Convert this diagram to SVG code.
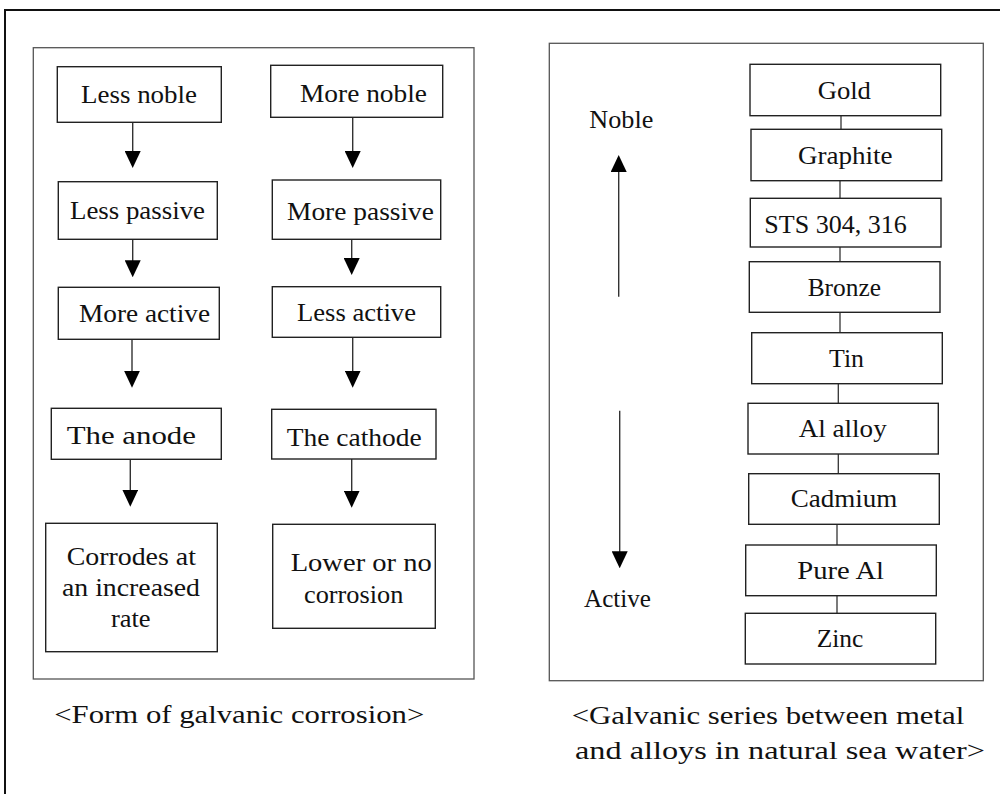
<svg xmlns="http://www.w3.org/2000/svg" width="1000" height="794" viewBox="0 0 1000 794">
  <style>
    .frame { fill: none; stroke: #111; stroke-width: 2; }
    .panel { fill: none; stroke: #555; stroke-width: 1.3; }
    .box { fill: #fff; stroke: #222; stroke-width: 1.4; }
    .t { font-family: "Liberation Serif", "Times New Roman", serif; font-size: 26px; fill: #111; text-anchor: middle; }
    .cap { font-size: 25px; }
    .arrow { fill: none; stroke: #333; stroke-width: 1.4; marker-end: url(#head); }
    .link { fill: none; stroke: #333; stroke-width: 1.3; }
  </style>
  <defs>
    <marker id="head" markerUnits="userSpaceOnUse" viewBox="0 0 17 16" markerWidth="17" markerHeight="16" refX="14" refY="8" orient="auto">
      <path d="M0,0 L17,8 L0,16 z" fill="#000"/>
    </marker>
  </defs>

  <rect class="frame" x="5" y="10" width="1010" height="800"/>

  <!-- left panel: form of galvanic corrosion -->
  <rect class="panel" x="33.3" y="47.7" width="440.7" height="631.3"/>
  <!-- right panel: galvanic series -->
  <rect class="panel" x="549.3" y="43.3" width="434" height="637.4"/>

  <g id="connectors">
    <path class="arrow" d="M132.7,122.3 V165"/>
    <path class="arrow" d="M352.7,117.3 V165"/>
    <path class="arrow" d="M132.7,239.3 V274.3"/>
    <path class="arrow" d="M351.7,239.3 V272"/>
    <path class="arrow" d="M132,339.3 V384.7"/>
    <path class="arrow" d="M352.7,337.3 V384.7"/>
    <path class="arrow" d="M130.3,459.3 V503.7"/>
    <path class="arrow" d="M351.7,459 V504.7"/>
    <path class="arrow" d="M618.7,296.7 V158"/>
    <path class="arrow" d="M619.7,410.7 V565.3"/>
    <path class="link" d="M841,115.7 V129.3"/>
    <path class="link" d="M840,180.7 V198.3"/>
    <path class="link" d="M840,247 V261.7"/>
    <path class="link" d="M840,312.3 V332.7"/>
    <path class="link" d="M838.3,383.7 V403.3"/>
    <path class="link" d="M838.3,454 V473.7"/>
    <path class="link" d="M837,524.3 V545"/>
    <path class="link" d="M837,595.7 V613.3"/>
  </g>

  <!-- left column -->
  <g id="less-noble">
    <rect class="box" x="57.3" y="66.7" width="164" height="55.6"/>
    <text class="t" x="139" y="103" textLength="116" lengthAdjust="spacingAndGlyphs">Less  noble</text>
  </g>
  <g id="less-passive">
    <rect class="box" x="58.3" y="181.7" width="159" height="57.6"/>
    <text class="t" x="137.5" y="219" textLength="135" lengthAdjust="spacingAndGlyphs">Less  passive</text>
  </g>
  <g id="more-active">
    <rect class="box" x="58.3" y="287.3" width="161" height="52"/>
    <text class="t" x="144.5" y="321.7" textLength="131" lengthAdjust="spacingAndGlyphs">More  active</text>
  </g>
  <g id="the-anode">
    <rect class="box" x="51.3" y="408.3" width="170" height="51"/>
    <text class="t" x="131.3" y="444" font-size="29" textLength="129.3" lengthAdjust="spacingAndGlyphs">The  anode</text>
  </g>
  <g id="corrodes">
    <rect class="box" x="45.7" y="523.3" width="171.6" height="128.4"/>
    <text class="t" x="131.3" y="565" textLength="129.3" lengthAdjust="spacingAndGlyphs">Corrodes  at</text>
    <text class="t" x="131" y="596" textLength="138" lengthAdjust="spacingAndGlyphs">an  increased</text>
    <text class="t" x="130.8" y="626.7" textLength="39.7" lengthAdjust="spacingAndGlyphs">rate</text>
  </g>

  <!-- right column -->
  <g id="more-noble">
    <rect class="box" x="270.7" y="65.3" width="172" height="52"/>
    <text class="t" x="363.5" y="101.7" textLength="127" lengthAdjust="spacingAndGlyphs">More  noble</text>
  </g>
  <g id="more-passive">
    <rect class="box" x="272.3" y="180" width="168.4" height="59.3"/>
    <text class="t" x="360.5" y="220" textLength="147" lengthAdjust="spacingAndGlyphs">More  passive</text>
  </g>
  <g id="less-active">
    <rect class="box" x="272.3" y="286.7" width="168.4" height="50.6"/>
    <text class="t" x="356.5" y="320.7" textLength="119" lengthAdjust="spacingAndGlyphs">Less  active</text>
  </g>
  <g id="the-cathode">
    <rect class="box" x="271.7" y="409.3" width="164.3" height="49.7"/>
    <text class="t" x="354.2" y="445.7" font-size="27" textLength="135" lengthAdjust="spacingAndGlyphs">The  cathode</text>
  </g>
  <g id="lower-corrosion">
    <rect class="box" x="272.7" y="524.3" width="162.6" height="104"/>
    <text class="t" x="361.2" y="570.7" textLength="141" lengthAdjust="spacingAndGlyphs">Lower  or  no</text>
    <text class="t" x="353.7" y="603.3" textLength="99.3" lengthAdjust="spacingAndGlyphs">corrosion</text>
  </g>

  <text class="t cap" x="239.3" y="723.3" textLength="370" lengthAdjust="spacingAndGlyphs">&lt;Form  of  galvanic  corrosion&gt;</text>

  <!-- galvanic series -->
  <g id="gold">
    <rect class="box" x="750" y="64.3" width="190.7" height="51.4"/>
    <text class="t" x="844.3" y="99.3" textLength="53.3" lengthAdjust="spacingAndGlyphs">Gold</text>
  </g>
  <g id="graphite">
    <rect class="box" x="751" y="129.3" width="190.7" height="51.4"/>
    <text class="t" x="845.3" y="164" textLength="94.7" lengthAdjust="spacingAndGlyphs">Graphite</text>
  </g>
  <g id="sts">
    <rect class="box" x="750.3" y="198.3" width="190.7" height="48.7"/>
    <text class="t" x="835.5" y="232.7" textLength="142.4" lengthAdjust="spacingAndGlyphs">STS  304,  316</text>
  </g>
  <g id="bronze">
    <rect class="box" x="749.3" y="261.7" width="190.7" height="50.6"/>
    <text class="t" x="844.3" y="295.7" textLength="73.3" lengthAdjust="spacingAndGlyphs">Bronze</text>
  </g>
  <g id="tin">
    <rect class="box" x="751.7" y="332.7" width="190.6" height="51"/>
    <text class="t" x="846.5" y="366.7" textLength="35" lengthAdjust="spacingAndGlyphs">Tin</text>
  </g>
  <g id="al-alloy">
    <rect class="box" x="748" y="403.3" width="190.3" height="50.7"/>
    <text class="t" x="842.7" y="437.3" textLength="88" lengthAdjust="spacingAndGlyphs">Al  alloy</text>
  </g>
  <g id="cadmium">
    <rect class="box" x="748.7" y="473.7" width="190.6" height="50.6"/>
    <text class="t" x="844" y="506.7" textLength="106.6" lengthAdjust="spacingAndGlyphs">Cadmium</text>
  </g>
  <g id="pure-al">
    <rect class="box" x="745.7" y="545" width="190.6" height="50.7"/>
    <text class="t" x="840.7" y="579" textLength="86.7" lengthAdjust="spacingAndGlyphs">Pure  Al</text>
  </g>
  <g id="zinc">
    <rect class="box" x="745.3" y="613.3" width="190.4" height="50.7"/>
    <text class="t" x="840" y="646.7" textLength="46.6" lengthAdjust="spacingAndGlyphs">Zinc</text>
  </g>

  <text class="t" x="621.3" y="128.3" textLength="64" lengthAdjust="spacingAndGlyphs">Noble</text>
  <text class="t" x="617.5" y="606.7" textLength="67" lengthAdjust="spacingAndGlyphs">Active</text>

  <text class="t cap" x="768" y="724" textLength="392.6" lengthAdjust="spacingAndGlyphs">&lt;Galvanic  series  between  metal</text>
  <text class="t cap" x="780" y="759.3" textLength="410" lengthAdjust="spacingAndGlyphs">and  alloys  in  natural  sea  water&gt;</text>
</svg>
